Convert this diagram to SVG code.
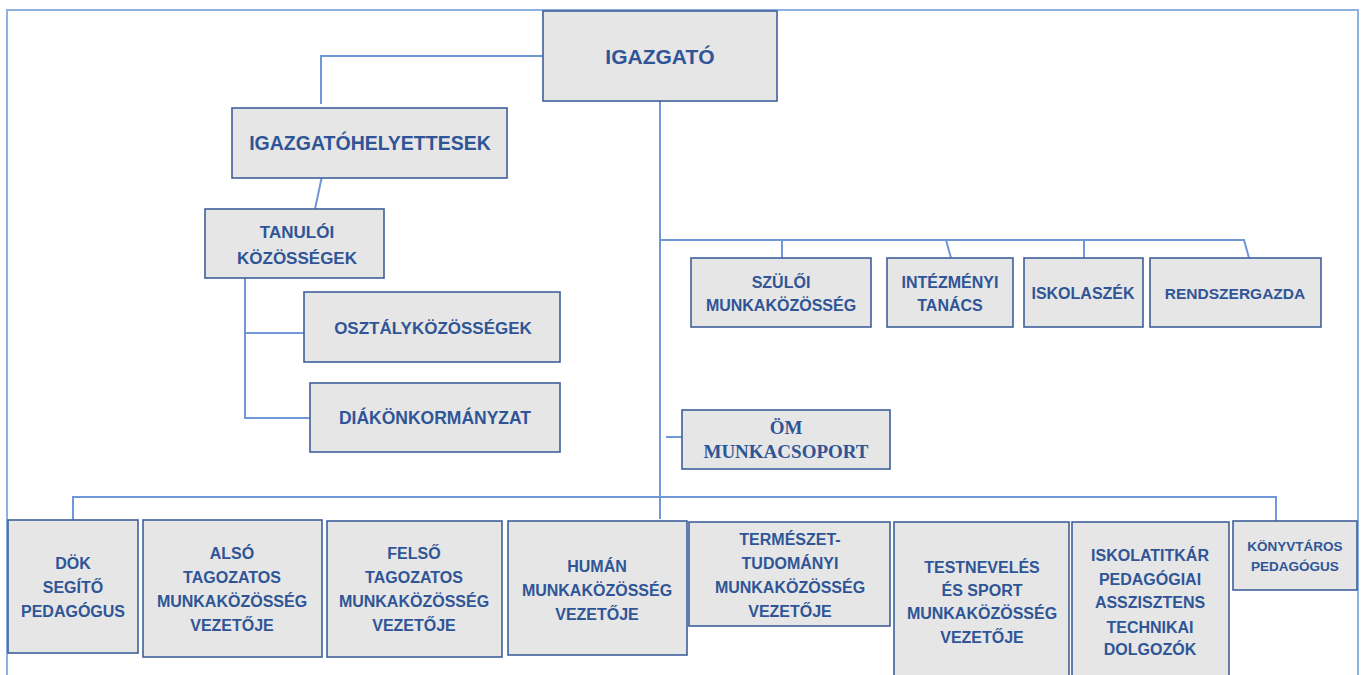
<svg xmlns="http://www.w3.org/2000/svg" width="1365" height="675" viewBox="0 0 1365 675">
<style>
.box{fill:#e6e6e6;stroke:#3f5f9a;stroke-width:1.6}
.t{font-family:"Liberation Sans",Arial,sans-serif;font-weight:bold;fill:#2f5597;text-anchor:middle}
.s{font-family:"Liberation Serif","Times New Roman",serif;font-weight:bold;fill:#2f5597;text-anchor:middle}
.c{fill:none;stroke:#7098d8;stroke-width:2}
</style>
<rect x="0" y="0" width="1365" height="675" fill="#ffffff"/>
<rect x="7" y="10" width="1351" height="720" fill="none" stroke="#8eb1e3" stroke-width="2"/>
<g id="connectors">
<path class="c" d="M543 56 H321 V104"/>
<path class="c" d="M322 176 L315 209"/>
<path class="c" d="M245 278 V418 H310 M245 333 H304"/>
<path class="c" d="M660 101 V519"/>
<path class="c" d="M660 240 H1244 L1249 258 M782 240 V258 M946 240 L951 258 M1084 240 V258"/>
<path class="c" d="M666 437 H682"/>
<path class="c" d="M73 520 V497 H1276 V521"/>
</g>
<g id="igazgato"><rect class="box" x="543" y="11" width="234" height="90"/><text class="t" x="660" y="64" font-size="21">IGAZGATÓ</text></g>
<g id="helyettesek"><rect class="box" x="232" y="108" width="275" height="70"/><text class="t" x="370" y="150" font-size="19.5">IGAZGATÓHELYETTESEK</text></g>
<g id="tanuloi"><rect class="box" x="205" y="209" width="179" height="69"/><text class="t" x="297" y="238" font-size="17">TANULÓI</text><text class="t" x="297" y="264" font-size="17">KÖZÖSSÉGEK</text></g>
<g id="osztaly"><rect class="box" x="304" y="292" width="256" height="70"/><text class="t" x="433" y="334" font-size="17">OSZTÁLYKÖZÖSSÉGEK</text></g>
<g id="diak"><rect class="box" x="310" y="383" width="250" height="69"/><text class="t" x="435" y="424" font-size="17.5">DIÁKÖNKORMÁNYZAT</text></g>
<g id="szuloi"><rect class="box" x="691" y="258" width="180" height="69"/><text class="t" x="781" y="288" font-size="16">SZÜLŐI</text><text class="t" x="781" y="311" font-size="16">MUNKAKÖZÖSSÉG</text></g>
<g id="intezmenyi"><rect class="box" x="887" y="258" width="126" height="69"/><text class="t" x="950" y="288" font-size="16">INTÉZMÉNYI</text><text class="t" x="950" y="311" font-size="16">TANÁCS</text></g>
<g id="iskolaszek"><rect class="box" x="1024" y="258" width="119" height="69"/><text class="t" x="1083" y="299" font-size="16">ISKOLASZÉK</text></g>
<g id="rendszergazda"><rect class="box" x="1150" y="258" width="171" height="69"/><text class="t" x="1235" y="299" font-size="15.5">RENDSZERGAZDA</text></g>
<g id="om"><rect class="box" x="682" y="410" width="208" height="59"/><text class="s" x="786" y="434" font-size="19">ÖM</text><text class="s" x="786" y="458" font-size="19">MUNKACSOPORT</text></g>
<g id="dok"><rect class="box" x="8" y="520" width="130" height="133"/><text class="t" x="73" y="569" font-size="16">DÖK</text><text class="t" x="73" y="593" font-size="16">SEGÍTŐ</text><text class="t" x="73" y="617" font-size="16">PEDAGÓGUS</text></g>
<g id="also"><rect class="box" x="143" y="520" width="179" height="137"/><text class="t" x="232" y="559" font-size="16">ALSÓ</text><text class="t" x="232" y="583" font-size="16">TAGOZATOS</text><text class="t" x="232" y="607" font-size="16">MUNKAKÖZÖSSÉG</text><text class="t" x="232" y="631" font-size="16">VEZETŐJE</text></g>
<g id="felso"><rect class="box" x="327" y="521" width="175" height="136"/><text class="t" x="414" y="559" font-size="16">FELSŐ</text><text class="t" x="414" y="583" font-size="16">TAGOZATOS</text><text class="t" x="414" y="607" font-size="16">MUNKAKÖZÖSSÉG</text><text class="t" x="414" y="631" font-size="16">VEZETŐJE</text></g>
<g id="human"><rect class="box" x="508" y="521" width="179" height="134"/><text class="t" x="597" y="572" font-size="16">HUMÁN</text><text class="t" x="597" y="596" font-size="16">MUNKAKÖZÖSSÉG</text><text class="t" x="597" y="620" font-size="16">VEZETŐJE</text></g>
<g id="termeszet"><rect class="box" x="689" y="522" width="201" height="104"/><text class="t" x="790" y="545" font-size="16">TERMÉSZET-</text><text class="t" x="790" y="569" font-size="16">TUDOMÁNYI</text><text class="t" x="790" y="593" font-size="16">MUNKAKÖZÖSSÉG</text><text class="t" x="790" y="617" font-size="16">VEZETŐJE</text></g>
<g id="testneveles"><rect class="box" x="894" y="522" width="175" height="170"/><text class="t" x="982" y="573" font-size="16">TESTNEVELÉS</text><text class="t" x="982" y="596" font-size="16">ÉS SPORT</text><text class="t" x="982" y="619" font-size="16">MUNKAKÖZÖSSÉG</text><text class="t" x="982" y="643" font-size="16">VEZETŐJE</text></g>
<g id="iskolatitkar"><rect class="box" x="1072" y="522" width="157" height="170"/><text class="t" x="1150" y="561" font-size="16">ISKOLATITKÁR</text><text class="t" x="1150" y="585" font-size="16">PEDAGÓGIAI</text><text class="t" x="1150" y="608" font-size="16">ASSZISZTENS</text><text class="t" x="1150" y="633" font-size="16">TECHNIKAI</text><text class="t" x="1150" y="655" font-size="16">DOLGOZÓK</text></g>
<g id="konyvtaros"><rect class="box" x="1233" y="521" width="124" height="69"/><text class="t" x="1295" y="551" font-size="13.5">KÖNYVTÁROS</text><text class="t" x="1295" y="571" font-size="13.5">PEDAGÓGUS</text></g>
</svg>
